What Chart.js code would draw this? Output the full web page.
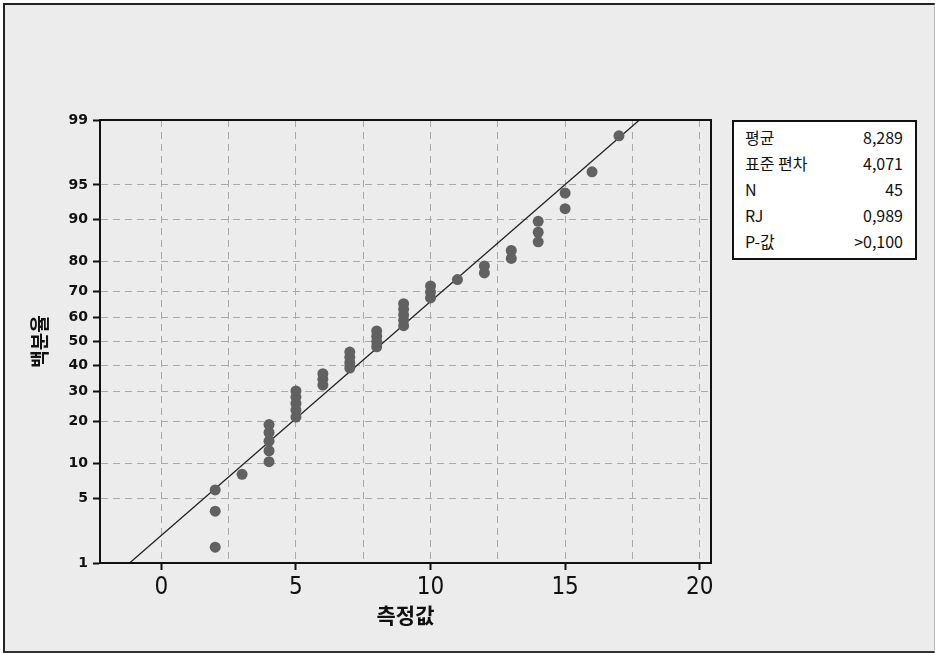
<!DOCTYPE html>
<html>
<head>
<meta charset="utf-8">
<script src="https://cdn.jsdelivr.net/npm/chart.js@4/dist/chart.umd.min.js"></script>
<style>
  body { margin: 0; background: #fff; }
  #wrap { position: relative; width: 935px; height: 653px; overflow: hidden; }
  #frame {
    position: absolute; left: 3px; top: 3px; width: 932px; height: 650px;
    box-sizing: border-box; background: #ececec;
    border-left: 2px solid #222; border-top: 2px solid #222;
    border-bottom: 2px solid #333; border-right: 1px solid #bbb;
  }
  #plot { position: absolute; left: 0; top: 0; }
  #stats {
    position: absolute; left: 732px; top: 120px; width: 185px; height: 140px;
    box-sizing: border-box; border: 2px solid #111; background: #fff;
    padding: 2px 12px 0 11px;
    font-family: "Noto Sans CJK KR", "DejaVu Sans", sans-serif; font-size: 16px; color: #111;
  }
  #stats div { display: flex; justify-content: space-between; height: 26px; line-height: 26px; }
</style>
</head>
<body>
<div id="wrap">
  <div id="frame"></div>
  <canvas id="plot" width="935" height="653"></canvas>
  <div id="stats"></div>
</div>
<script>
// measured values, sorted
var values = [2, 2, 2, 3, 4, 4, 4, 4, 4, 5, 5, 5, 5, 5, 6, 6, 6, 7, 7, 7, 7,
              8, 8, 8, 8, 9, 9, 9, 9, 9, 10, 10, 10, 11, 12, 12, 13, 13,
              14, 14, 14, 15, 15, 16, 17];
// plotted percent for each value
var percent = [1.54, 3.74, 5.95, 8.15, 10.35, 12.56, 14.76, 16.96, 19.16,
               21.37, 23.57, 25.77, 27.97, 30.18, 32.38, 34.58, 36.78,
               38.99, 41.19, 43.39, 45.59, 47.80, 50.00, 52.20, 54.41,
               56.61, 58.81, 61.01, 63.22, 65.42, 67.62, 69.82, 72.03,
               74.23, 76.43, 78.63, 80.84, 83.04, 85.24, 87.44, 89.65,
               91.85, 94.05, 96.26, 98.46];
var yTicks = [1, 5, 10, 20, 30, 40, 50, 60, 70, 80, 90, 95, 99];
var xTicks = [0, 2.5, 5, 7.5, 10, 12.5, 15, 17.5, 20];
var statLabels = ["평균", "표준 편차", "N", "RJ", "P-값"];
var statValues = ["8,289", "4,071", "45", "0,989", ">0,100"];
var mean = 8.289;
var stdev = 4.071;

// inverse normal CDF (Acklam) - turns a percent into the probability axis position
function probit(p) {
    var a = [-3.969683028665376e+01, 2.209460984245205e+02, -2.759285104469687e+02,
             1.383577518672690e+02, -3.066479806614716e+01, 2.506628277459239e+00];
    var b = [-5.447609879822406e+01, 1.615858368580409e+02, -1.556989798598866e+02,
             6.680131188771972e+01, -1.328068155922803e+01];
    var c = [-7.784894002430293e-03, -3.223964580411365e-01, -2.400758277161838e+00,
             -2.549732539343734e+00, 4.374664141464968e+00, 2.938163982698783e+00];
    var d = [7.784695709041462e-03, 3.224671290700398e-01, 2.445134137142996e+00,
             3.754408661907416e+00];
    var q, r;
    if (p < 0.02425) {
        q = Math.sqrt(-2 * Math.log(p));
        return (((((c[0]*q+c[1])*q+c[2])*q+c[3])*q+c[4])*q+c[5]) /
               ((((d[0]*q+d[1])*q+d[2])*q+d[3])*q+1);
    }
    if (p > 1 - 0.02425) {
        q = Math.sqrt(-2 * Math.log(1 - p));
        return -(((((c[0]*q+c[1])*q+c[2])*q+c[3])*q+c[4])*q+c[5]) /
                ((((d[0]*q+d[1])*q+d[2])*q+d[3])*q+1);
    }
    q = p - 0.5;
    r = q * q;
    return (((((a[0]*r+a[1])*r+a[2])*r+a[3])*r+a[4])*r+a[5])*q /
           (((((b[0]*r+b[1])*r+b[2])*r+b[3])*r+b[4])*r+1);
}

// stats box
var statsBox = document.getElementById("stats");
for (var i = 0; i < statLabels.length; i++) {
    var row = document.createElement("div");
    row.innerHTML = "<span>" + statLabels[i] + "</span><span>" + statValues[i] + "</span>";
    statsBox.appendChild(row);
}

var yLow = probit(yTicks[0] / 100);
var yHigh = probit(yTicks[yTicks.length - 1] / 100);

var points = values.map(function(v, i) {
    return { x: v, y: probit(percent[i] / 100) };
});
// fitted normal line from the mean and standard deviation
var fitLine = [
    { x: mean + stdev * yLow, y: yLow },
    { x: mean + stdev * yHigh, y: yHigh }
];

// full box around the plot area
var plotBox = {
    id: "plotBox",
    afterDatasetsDraw: function(chart) {
        var a = chart.chartArea;
        var ctx = chart.ctx;
        ctx.save();
        ctx.strokeStyle = "#111";
        ctx.lineWidth = 2;
        ctx.strokeRect(a.left, a.top, a.right - a.left, a.bottom - a.top);
        ctx.restore();
    }
};

var ctx = document.getElementById("plot").getContext("2d");
var chart = new Chart(ctx, {
    type: "scatter",
    data: {
        datasets: [{
            data: points,
            pointRadius: 5.5,
            pointBorderWidth: 0,
            pointBackgroundColor: "#616161",
            pointBorderColor: "#616161",
            order: 1
        }, {
            type: "line",
            data: fitLine,
            borderColor: "#222",
            borderWidth: 1.3,
            pointRadius: 0,
            fill: false,
            order: 2
        }]
    },
    plugins: [plotBox],
    options: {
        responsive: false,
        animation: false,
        layout: { padding: { left: 0, top: 120, right: 224, bottom: 0 } },
        plugins: {
            legend: { display: false },
            tooltip: { enabled: false }
        },
        scales: {
            x: {
                type: "linear",
                min: -2.28,
                max: 20.42,
                afterFit: function(scale) { scale.height = 90; },
                afterBuildTicks: function(scale) {
                    scale.ticks = xTicks.map(function(v) { return { value: v }; });
                },
                grid: {
                    color: "#a9a9a9",
                    tickLength: 7,
                    tickColor: function(c) {
                        return c.tick && c.tick.value % 5 === 0 ? "#111" : "rgba(0,0,0,0)";
                    },
                    tickWidth: 2
                },
                border: { color: "#111", width: 2, dash: [7, 5] },
                ticks: {
                    padding: 3,
                    color: "#111",
                    font: { family: "'Liberation Sans Narrow', 'DejaVu Sans Condensed', sans-serif", size: 24 },
                    callback: function(v) { return v % 5 === 0 ? String(v) : ""; }
                },
                title: {
                    display: true,
                    text: "측정값",
                    color: "#111",
                    font: { family: "'Noto Sans CJK KR', sans-serif", size: 21, weight: "bold" },
                    padding: { top: 0, bottom: 25 }
                }
            },
            y: {
                type: "linear",
                min: yLow,
                max: yHigh,
                afterFit: function(scale) { scale.width = 100; },
                afterBuildTicks: function(scale) {
                    scale.ticks = yTicks.map(function(p) { return { value: probit(p / 100) }; });
                },
                grid: {
                    color: "#a9a9a9",
                    tickLength: 7,
                    tickColor: "#111",
                    tickWidth: 2
                },
                border: { color: "#111", width: 2, dash: [7, 5] },
                ticks: {
                    padding: 5,
                    color: "#111",
                    font: { family: "'DejaVu Sans', sans-serif", size: 14, weight: "bold" },
                    callback: function(v, i) { return String(yTicks[i]); }
                },
                title: {
                    display: true,
                    text: "백분율",
                    color: "#111",
                    font: { family: "'Noto Sans CJK KR', sans-serif", size: 19, weight: "bold" },
                    padding: { top: 28, bottom: 0 }
                }
            }
        }
    }
});
</script>
</body>
</html>
